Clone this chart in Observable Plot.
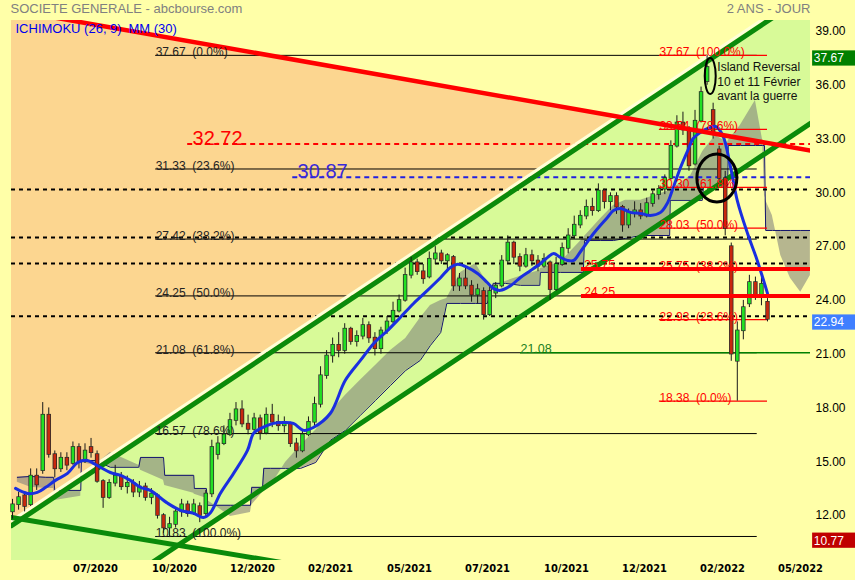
<!DOCTYPE html>
<html><head><meta charset="utf-8">
<script src="https://cdn.jsdelivr.net/npm/d3@7"></script>
<script src="https://cdn.jsdelivr.net/npm/@observablehq/plot@0.6"></script>
<style>
html,body{margin:0;padding:0;background:#FFFFA8;}
#chart{width:855px;height:580px;}
</style></head><body><div id="chart"></div>
<script>
// ---- candles (index = bar number on a trading-day axis) ----
const opens  = [12.2,12.6,13.1,12.6,14.2,14.5,17.6,15.4,14.6,15.2,14.9,15.8,15.0,15.8,15.4,13.9,13.0,13.8,14.2,13.6,13.8,13.3,13.6,13.0,13.1,12.0,11.3,11.5,12.2,12.6,12.1,12.5,12.1,13.2,15.4,16.0,16.5,17.3,17.9,17.1,16.8,17.4,16.6,17.6,17.2,17.0,17.1,16.0,15.6,16.5,17.2,18.2,19.8,20.9,21.5,21.2,22.4,21.7,22.0,22.6,21.9,21.3,22.3,22.8,23.4,24.0,25.4,26.1,25.6,25.3,26.3,26.6,26.2,26.4,24.8,25.2,24.8,24.3,24.5,23.2,24.4,24.8,26.2,27.2,26.4,25.9,26.5,26.2,25.9,26.1,24.6,26.0,26.9,27.6,28.2,28.7,29.2,29.0,30.1,29.5,29.8,29.2,28.2,28.9,29.0,28.7,29.4,29.9,30.2,30.8,32.6,33.9,33.5,31.6,34.0,36.2,34.6,32.4,30.8,27.0,20.6,22.3,23.8,25.0,24.2,23.9];
const highs  = [12.9,13.3,13.3,14.6,14.6,18.3,18.0,15.6,15.5,15.5,16.1,16.0,16.0,16.3,15.6,14.0,14.0,14.8,14.4,14.2,14.0,13.9,13.8,13.5,13.2,12.1,11.9,12.4,12.9,12.8,12.9,12.7,13.4,16.2,16.4,17.0,17.7,18.3,18.4,17.6,17.7,17.6,18.0,18.2,17.6,17.5,17.2,16.3,16.7,17.5,18.6,20.3,21.2,21.9,22.2,22.7,22.5,22.3,23.0,22.8,22.2,22.5,23.1,23.9,24.3,25.8,26.4,26.3,26.0,26.7,27.0,26.8,26.6,26.5,25.5,25.8,25.1,24.9,24.7,24.8,25.0,26.5,27.6,27.3,26.6,26.9,26.8,26.5,26.6,26.2,26.4,27.2,28.0,28.7,29.0,29.6,29.7,30.5,30.2,30.0,30.0,29.3,29.1,29.5,29.4,29.7,30.1,30.4,31.0,32.9,34.3,34.5,33.7,34.6,35.9,37.67,35.0,32.6,31.2,27.2,22.8,24.0,25.4,25.3,25.5,24.1];
const lows   = [11.8,12.3,12.2,12.5,13.4,14.3,15.2,14.1,14.4,14.5,14.8,14.6,14.9,15.2,13.8,12.4,12.9,13.6,13.4,13.2,13.0,13.0,12.8,12.6,11.8,11.0,10.77,11.3,11.9,11.9,12.0,11.6,11.9,13.0,15.1,15.9,16.4,17.0,16.9,16.5,16.7,16.2,16.5,16.9,16.7,16.6,15.8,15.2,15.5,16.4,17.0,18.0,19.6,20.5,20.8,21.0,21.5,21.4,21.8,21.6,20.9,21.0,22.1,22.7,23.3,23.9,25.2,25.4,24.9,25.2,26.0,26.0,25.7,24.5,24.5,24.6,23.9,23.8,22.9,23.1,24.1,24.7,26.0,26.0,25.6,25.8,25.9,25.6,25.8,24.0,24.5,25.9,26.6,27.4,28.0,28.5,28.7,28.9,29.1,29.0,28.8,27.8,28.0,28.6,28.5,28.6,29.2,29.6,29.9,30.7,32.5,33.2,31.2,31.5,33.9,36.0,33.0,30.6,27.6,20.6,18.38,21.8,23.6,24.0,23.7,22.8];
const closes = [12.6,13.0,12.5,14.2,13.7,17.6,15.4,14.6,15.2,14.8,15.8,15.0,15.6,15.5,13.9,13.0,13.8,14.2,13.6,13.8,13.3,13.6,13.0,13.2,12.0,11.3,11.5,12.2,12.6,12.1,12.6,12.0,13.2,15.8,16.0,16.5,17.3,17.9,17.1,16.8,17.4,16.6,17.6,17.2,17.0,17.2,16.0,15.6,16.5,17.2,18.2,19.8,20.9,21.5,21.2,22.4,21.7,22.0,22.6,21.9,21.3,22.3,22.8,23.4,24.0,25.4,26.1,25.6,25.2,26.3,26.6,26.2,26.5,24.8,25.2,24.8,24.3,24.6,23.2,24.5,24.8,26.2,27.2,26.4,25.9,26.5,26.2,25.9,26.3,24.6,26.0,26.9,27.6,28.2,28.7,29.2,29.0,30.1,29.5,29.8,29.2,28.2,28.9,29.0,28.7,29.4,29.9,30.2,30.8,32.6,33.9,33.5,31.5,34.0,35.6,37.0,33.3,30.8,28.0,21.0,22.3,23.6,25.0,24.2,24.9,22.94];

// ---- MM(30) ----
const mmIdx = [0.5,2.5,4.1,5.5,7.1,9.1,10.8,12.4,13.4,14.6,16.2,17.9,19.5,21.2,22.8,25.7,27.8,30.0,31.6,32.8,34.4,36.6,38.9,39.9,41.1,43.2,44.9,46.5,48.2,49.8,52.6,55.1,57.6,59.8,62.1,64.2,66.4,68.7,70.9,72.5,73.7,75.3,77.0,78.6,79.6,80.8,82.5,84.1,85.8,87.4,88.6,89.6,90.7,91.9,92.9,94.0,96.2,98.5,99.5,100.7,102.3,104.0,105.6,107.3,108.4,109.4,110.6,111.8,112.7,113.9,115.1,116.4,117.6,118.9,120.0,121.7,123.3,125.0];
const mmVal = [13.51,13.23,13.29,13.57,13.96,14.35,14.96,15.07,14.91,14.68,14.40,14.24,13.96,13.57,13.40,12.68,12.29,12.12,11.89,12.17,13.23,14.35,15.63,16.58,16.86,17.14,17.19,17.14,16.75,16.91,17.69,19.54,20.65,21.60,22.32,23.05,23.83,24.56,25.28,25.84,26.01,25.84,25.50,25.00,24.67,24.56,24.83,25.28,25.67,26.06,26.40,26.62,26.40,26.23,26.23,26.70,27.73,28.63,29.02,29.13,28.91,28.85,28.74,28.91,29.41,30.30,31.41,32.36,33.03,33.37,33.59,33.70,33.20,31.41,29.57,27.73,26.23,24.39];

// ---- Ichimoku cloud ----
const cloudIdx = [0.8,3.0,5.5,6.8,7.0,11.3,11.4,13.7,16.2,20.9,21.2,25.0,25.2,30.0,30.1,32.1,32.3,36.1,39.4,39.6,41.4,41.6,42.7,45.2,47.7,50.2,52.6,55.1,57.6,60.1,62.6,65.1,67.5,69.2,70.9,71.9,74.2,76.7,78.6,79.6,81.6,84.1,87.3,87.4,90.7,94.5,94.7,97.4,99.5,101.5,104.0,108.8,108.9,112.3,114.2,114.4,116.4,118.4,118.5,120.5,123.0,124.2,124.5,124.7,125.8,127.2,128.8,130.5,132.1];
const spanA = [13.85,13.57,13.51,13.51,12.84,13.07,14.95,14.80,15.52,14.80,14.52,13.96,13.68,13.24,13.18,12.96,12.84,11.95,12.17,12.57,13.29,13.40,13.62,14.96,15.91,16.75,17.75,18.70,19.54,20.37,21.21,21.88,23.00,23.72,24.00,24.11,25.56,26.06,24.95,24.67,25.06,25.34,25.67,25.78,26.12,27.46,27.57,28.57,29.30,29.58,29.58,30.13,30.13,30.97,32.25,32.36,33.20,32.81,32.92,33.76,35.15,32.92,29.85,29.58,28.74,26.51,25.23,24.45,25.39];
const spanB = [14.13,14.18,14.13,14.13,13.40,13.40,15.07,15.07,14.69,14.69,15.24,15.24,14.24,14.24,13.51,13.51,12.57,12.57,12.57,13.57,13.57,14.63,14.63,14.63,14.63,14.96,16.19,16.75,17.59,18.42,19.26,20.09,20.65,21.49,22.21,23.83,23.83,23.83,23.83,24.95,24.95,24.84,24.84,25.56,25.56,25.56,27.34,27.34,27.34,27.46,27.62,27.62,29.58,29.58,29.58,30.30,30.30,30.30,32.64,32.64,32.64,32.64,32.64,27.90,27.90,27.90,27.90,27.90,27.90];

// ---- axes ----
const xTickPos = [13.74,26.82,39.74,52.65,65.73,78.64,91.72,104.64,117.55,130.46];
const xTickLabels = ["07/2020","10/2020","12/2020","02/2021","05/2021","07/2021","10/2021","12/2021","02/2022","05/2022"];
const yTicks = [12,15,18,21,24,27,30,33,36,39];
const X0 = -0.17, X1 = 132.12, Y0 = 9.49, Y1 = 39.614;

// ---- drawn studies ----
const fibLeft = [37.67,31.33,27.42,24.25,21.08,16.57,10.83];
const fibLeftPct = ["0.0%","23.6%","38.2%","50.0%","61.8%","78.6%","100.0%"];
const fibLeftRange = [23.7,123.3];
const fibRight = [37.67,33.54,30.30,28.03,25.75,22.93,18.38];
const fibRightPct = ["100.0%","78.6%","61.8%","50.0%","38.2%","23.6%","0.0%"];
const fibRightRange = [107.1,125.0];
const dashLevels = [30.19,27.51,26.06,23.11];
const redDash = {v:32.72, from:29.0, label:29.8};
const blueDash = {v:30.87, from:46.4, label:47.2};
const redLevels = [25.75,24.25];
const redLevelsFrom = 94.2, redLevelsLabel = 94.6;
const greenLevel = {v:21.08, from:84.1};
// trend lines (endpoints)
const upperX = [X0, X1], upperY = [11.43, 41.18];
const lowerX = [X0, X1], lowerY = [4.14, 33.88];
const redX = [X0, X1], redY = [40.2, 32.36];
const downX = [X0, 49.5], downY = [11.89, 9.10];
const orangeX = [X0, 101.1], orangeLo = [11.43, 34.20], orangeHi = [40.2, 34.20];
const priceBoxes = [{v:37.67, fill:"#008000"},{v:22.94, fill:"#3F7FFF"},{v:10.77, fill:"#C00000"}];
const islandText = ["Island Reversal","10 et 11 Février","avant la guerre"];
const islandTextY = [37.02,36.18,35.40], islandTextX = 116.7;
const ellipses = [{i:116.7, v:30.80, rx:20, ry:24, w:3},{i:115.6, v:36.49, rx:5.5, ry:18, w:2}];

const candles = opens.map((o,i)=>({i, o, h:highs[i], l:lows[i], c:closes[i]}));
const mm = mmIdx.map((x,k)=>({x, y:mmVal[k]}));
const cloud = cloudIdx.map((x,k)=>({x, a:spanA[k], b:spanB[k]}));
const seg = (xs, ys) => xs.map((x,k)=>({x, y:ys[k]}));
const labelMap = new Map(xTickPos.map((p,k)=>[p, xTickLabels[k]]));
const FONT = "'Liberation Sans', Arial, sans-serif";
const NARROW = "'Liberation Sans Narrow', 'DejaVu Sans Condensed', sans-serif";
const fmt = v => v.toFixed(2);

const chart = Plot.plot({
  width: 855, height: 580,
  marginLeft: 11, marginRight: 45, marginTop: 20, marginBottom: 20,
  style: {background: "#FFFFA8", fontFamily: FONT, overflow: "visible"},
  x: {domain: [X0, X1]},
  y: {domain: [Y0, Y1]},
  marks: [
    // background regions
    Plot.areaY(lowerX.map((x,k)=>({x, lo:lowerY[k], hi:upperY[k]})), {x:"x", y1:"lo", y2:"hi", fill:"#D8FA98", clip:true}),
    Plot.areaY(orangeX.map((x,k)=>({x, lo:orangeLo[k], hi:orangeHi[k]})), {x:"x", y1:"lo", y2:"hi", fill:"#FCD690", clip:true}),
    // cloud
    Plot.areaY(cloud, {x:"x", y1:"a", y2:"b", fill:"#7A7A7A", fillOpacity:0.55, clip:true}),
    Plot.line(cloud, {x:"x", y:"b", stroke:"#14146E", strokeWidth:1, clip:true}),
    // horizontal levels
    Plot.ruleY(dashLevels, {x1:()=>X0, x2:()=>X1, stroke:"#000", strokeWidth:2, strokeDasharray:"4,4"}),
    Plot.ruleY(fibLeft, {x1:()=>fibLeftRange[0], x2:()=>fibLeftRange[1], stroke:"#000", strokeWidth:1}),
    Plot.ruleY([greenLevel.v], {x1:()=>greenLevel.from, x2:()=>X1, stroke:"#008000", strokeWidth:1.3}),
    Plot.ruleY(fibRight, {x1:()=>fibRightRange[0], x2:()=>fibRightRange[1], stroke:"#FF0000", strokeWidth:1.2}),
    Plot.ruleY([redDash.v], {x1:()=>redDash.from, x2:()=>X1, stroke:"#FF0000", strokeWidth:2, strokeDasharray:"5,4"}),
    Plot.ruleY([blueDash.v], {x1:()=>blueDash.from, x2:()=>X1, stroke:"#2020E0", strokeWidth:2, strokeDasharray:"5,4"}),
    // trend lines
    Plot.line(seg(upperX, upperY), {x:"x", y:"y", stroke:"#FFFFD8", strokeWidth:3, dy:-5, clip:true}),
    Plot.line(seg(upperX, upperY), {x:"x", y:"y", stroke:"#0A8A0A", strokeWidth:5, clip:true}),
    Plot.line(seg(lowerX, lowerY), {x:"x", y:"y", stroke:"#0A8A0A", strokeWidth:5, clip:true}),
    Plot.line(seg(downX, downY), {x:"x", y:"y", stroke:"#0A8A0A", strokeWidth:5, clip:true}),
    // candles
    Plot.ruleX(candles, {x:"i", y1:"l", y2:"h", stroke:"#1a1a1a", strokeWidth:1}),
    Plot.ruleX(candles, {x:"i", y1:d=>Math.min(d.o,d.c)-0.04, y2:d=>Math.max(d.o,d.c)+0.04, stroke:"#2a2a2a", strokeWidth:4.4}),
    Plot.ruleX(candles, {x:"i", y1:d=>Math.min(d.o,d.c), y2:d=>Math.max(d.o,d.c), stroke:d=>d.c>=d.o?"#22E022":"#C8280E", strokeWidth:2.8}),
    // MM(30)
    Plot.line(mm, {x:"x", y:"y", stroke:"#1A2FE0", strokeWidth:3, curve:"catmull-rom", clip:true}),
    // red downtrend + thick levels
    Plot.line(seg(redX, redY), {x:"x", y:"y", stroke:"#FF0000", strokeWidth:4.5, clip:true}),
    Plot.ruleY(redLevels, {x1:()=>redLevelsFrom, x2:()=>X1, stroke:"#FF0000", strokeWidth:4}),
    // labels
    Plot.text(fibLeft, {x:()=>fibLeftRange[0], y:d=>d, text:(d,i)=>fmt(d)+"\u00a0\u00a0("+fibLeftPct[i]+")", textAnchor:"start", lineAnchor:"bottom", dy:1, fontSize:12, fill:"#222"}),
    Plot.text(fibRight, {x:()=>fibRightRange[0], y:d=>d, text:(d,i)=>fmt(d)+"\u00a0\u00a0("+fibRightPct[i]+")", textAnchor:"start", lineAnchor:"bottom", dy:1, fontSize:12, fill:"#FF0000"}),
    Plot.text([greenLevel.v], {x:()=>greenLevel.from, y:d=>d, text:d=>fmt(d), textAnchor:"start", lineAnchor:"bottom", dy:0, fontSize:12.5, fill:"#208020"}),
    Plot.text([redDash.v], {x:()=>redDash.label, y:d=>d, text:d=>fmt(d), textAnchor:"start", lineAnchor:"bottom", dy:1, fontSize:20, fill:"#FF0000"}),
    Plot.text([blueDash.v], {x:()=>blueDash.label, y:d=>d, text:d=>fmt(d), textAnchor:"start", lineAnchor:"bottom", dy:1, fontSize:20, fill:"#3A2AD8"}),
    Plot.text(redLevels, {x:()=>redLevelsLabel, y:d=>d, text:d=>fmt(d), textAnchor:"start", lineAnchor:"bottom", dy:0, fontSize:12.5, fill:"#FF0000"}),
    Plot.text(islandText, {x:()=>islandTextX, y:(d,i)=>islandTextY[i], text:d=>d, textAnchor:"start", lineAnchor:"middle", fontSize:12, fill:"#111"}),
    // price boxes on right axis
    Plot.rect(priceBoxes, {x1:()=>X1+0.35, x2:()=>X1+8, y1:d=>d.v-0.6, y2:d=>d.v+0.25, fill:d=>d.fill}),
    Plot.text(priceBoxes, {x:()=>X1+0.55, y:d=>d.v-0.18, text:d=>fmt(d.v), textAnchor:"start", lineAnchor:"middle", fontSize:12, fill:"#fff"}),
    // titles
    Plot.text(["SOCIETE GENERALE - abcbourse.com"], {frameAnchor:"top-left", dx:-1, dy:-12, textAnchor:"start", lineAnchor:"middle", fontSize:13, fill:"#808080"}),
    Plot.text(["2 ANS - JOUR"], {frameAnchor:"top-right", dx:0, dy:-12, textAnchor:"end", lineAnchor:"middle", fontSize:13, fill:"#808080"}),
    Plot.text(["ICHIMOKU (26, 9)"], {frameAnchor:"top-left", dx:4, dy:8, textAnchor:"start", lineAnchor:"middle", fontSize:13, fill:"#0000EE"}),
    Plot.text(["MM (30)"], {frameAnchor:"top-left", dx:117, dy:8, textAnchor:"start", lineAnchor:"middle", fontSize:13, fill:"#0000EE"}),
    // axes
    Plot.axisX({ticks:xTickPos, tickFormat:d=>labelMap.get(d), tickSize:0, tickPadding:4, label:null, fontSize:11, fontWeight:"bold", fontFamily:NARROW, fill:"#000"}),
    Plot.axisY({anchor:"right", ticks:yTicks, tickFormat:fmt, tickSize:0, tickPadding:5, label:null, fontSize:12, fill:"#000"})
  ]
});

const sx = chart.scale("x"), sy = chart.scale("y");
d3.select(chart).append("g").selectAll("ellipse").data(ellipses).join("ellipse")
  .attr("cx", d=>sx.apply(d.i)).attr("cy", d=>sy.apply(d.v))
  .attr("rx", d=>d.rx).attr("ry", d=>d.ry)
  .attr("fill","none").attr("stroke","#000").attr("stroke-width", d=>d.w);

document.getElementById("chart").appendChild(chart);
</script>
</body></html>
